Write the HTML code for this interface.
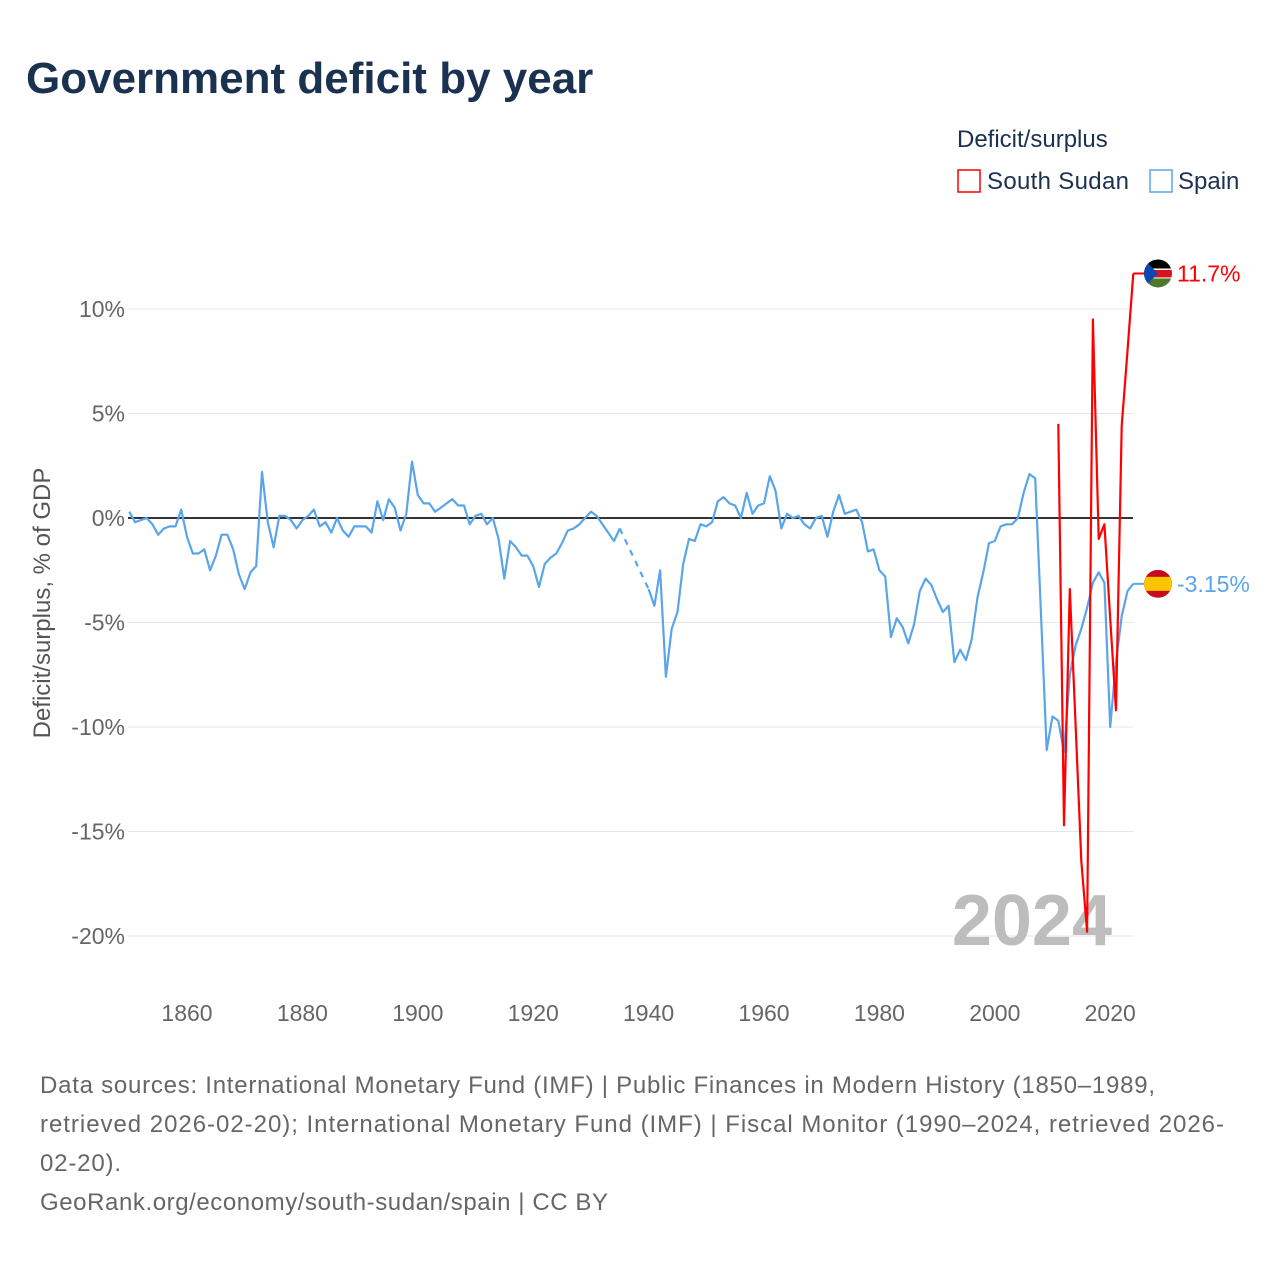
<!DOCTYPE html>
<html><head><meta charset="utf-8"><style>
body{margin:0;background:#fff;font-family:"Liberation Sans",sans-serif;}
#wrap{position:relative;width:1280px;height:1280px;overflow:hidden;}
</style></head><body>
<div id="wrap">
<svg id="chart" width="1280" height="1280">
<text x="26" y="93" font-size="44" font-weight="bold" fill="#1a3150">Government deficit by year</text>
<text x="957" y="147" font-size="24" fill="#1a3150">Deficit/surplus</text>
<g><rect x="958" y="170" width="22" height="22" fill="none" stroke="#f00" stroke-width="1.5"/><text x="987" y="189" font-size="24" fill="#1a3150" textLength="142">South Sudan</text></g>
<g><rect x="1150" y="170" width="22" height="22" fill="none" stroke="#5aa5ea" stroke-width="1.5"/><text x="1178" y="189" font-size="24" fill="#1a3150">Spain</text></g>
<g id="grid"></g><g id="yt"></g><g id="xt"></g>
<text x="1112" y="945" font-size="72" font-weight="bold" fill="#bdbdbd" text-anchor="end">2024</text>
<g id="series"></g>
<text transform="translate(50,603) rotate(-90)" font-size="24" fill="#555" text-anchor="middle">Deficit/surplus, % of GDP</text>
<text x="40" y="1093" font-size="24" fill="#666" textLength="1115">Data sources: International Monetary Fund (IMF) | Public Finances in Modern History (1850–1989,</text>
<text x="40" y="1132" font-size="24" fill="#666" textLength="1184">retrieved 2026-02-20); International Monetary Fund (IMF) | Fiscal Monitor (1990–2024, retrieved 2026-</text>
<text x="40" y="1171" font-size="24" fill="#666" textLength="81">02-20).</text>
<text x="40" y="1210" font-size="24" fill="#666" textLength="568">GeoRank.org/economy/south-sudan/spain | CC BY</text>
</svg></div>
<script>
const yTicks=[10,5,0,-5,-10,-15,-20];
const xTicks=[1860,1880,1900,1920,1940,1960,1980,2000,2020];
const spainStart=1850;
const spainVals=[0.3,-0.2,-0.1,0,-0.3,-0.8,-0.5,-0.4,-0.4,0.4,-0.9,-1.7,-1.7,-1.5,-2.5,-1.8,-0.8,-0.8,-1.5,-2.7,-3.4,-2.6,-2.3,2.2,-0.2,-1.4,0.1,0.1,-0.1,-0.5,-0.1,0.1,0.4,-0.4,-0.2,-0.7,0,-0.6,-0.9,-0.4,-0.4,-0.4,-0.7,0.8,-0.1,0.9,0.5,-0.6,0.2,2.7,1.1,0.7,0.7,0.3,0.5,0.7,0.9,0.6,0.6,-0.3,0.1,0.2,-0.3,0,-1,-2.9,-1.1,-1.4,-1.8,-1.8,-2.3,-3.3,-2.2,-1.9,-1.7,-1.2,-0.6,-0.5,-0.3,0,0.3,0.1,-0.3,-0.7,-1.1,-0.5,null,null,null,null,-3.4,-4.2,-2.5,-7.6,-5.3,-4.5,-2.2,-1,-1.1,-0.3,-0.4,-0.2,0.8,1,0.7,0.6,0,1.2,0.2,0.6,0.7,2,1.3,-0.5,0.2,0,0.1,-0.3,-0.5,0,0.1,-0.9,0.3,1.1,0.2,0.3,0.4,-0.2,-1.6,-1.5,-2.5,-2.8,-5.7,-4.8,-5.2,-6,-5.1,-3.5,-2.9,-3.2,-3.9,-4.5,-4.2,-6.9,-6.3,-6.8,-5.8,-3.8,-2.6,-1.2,-1.1,-0.4,-0.3,-0.3,0,1.2,2.1,1.9,-4.6,-11.1,-9.5,-9.7,-11.2,-7.5,-6.1,-5.3,-4.3,-3.1,-2.6,-3.1,-10,-6.9,-4.7,-3.5,-3.15];
const ssStart=2011;
const ssVals=[4.5,-14.7,-3.4,-9.9,-16.4,-19.8,9.5,-1,-0.3,-4.8,-9.2,4.4,8,11.7];
const X0=129.3,PX=5.77,Y0=518,PY=20.9,L=128,R=1133;
const xs=y=>X0+(y-1850)*PX, ys=v=>Y0-v*PY;
const NS='http://www.w3.org/2000/svg';
function mk(t,a,p){const e=document.createElementNS(NS,t);for(const k in a)e.setAttribute(k,a[k]);p.appendChild(e);return e;}
const g=document.getElementById('grid'),yt=document.getElementById('yt'),xt=document.getElementById('xt'),s=document.getElementById('series');
yTicks.forEach(v=>{
 const l=mk('line',{x1:L,x2:R,y1:ys(v),y2:ys(v),stroke:v===0?'#333':'#e6e6e6','stroke-width':v===0?2:1},g);
 
 
 const t=mk('text',{x:125,y:ys(v)+8,'font-size':23,fill:'#666','text-anchor':'end'},yt);t.textContent=v+'%';
 
 
});
xTicks.forEach(v=>{
 const t=mk('text',{x:xs(v),y:1021,'font-size':23,fill:'#666','text-anchor':'middle'},xt);t.textContent=v;
 
 
});
function draw(start,vals,col,name){
 let prev=null;
 vals.forEach((v,i)=>{
  if(v===null)return;
  const yr=start+i;
  if(prev&&yr-prev.yr>1){const d=mk('line',{x1:xs(prev.yr),y1:ys(prev.v),x2:xs(yr),y2:ys(v),stroke:col,'stroke-width':2.2,'stroke-dasharray':'6,6'},s);
   
   }
  prev={yr,v};
 });
 let pts=[],parts=[];
 vals.forEach((v,i)=>{if(v===null){if(pts.length)parts.push(pts);pts=[];}else pts.push(xs(start+i).toFixed(1)+','+ys(v).toFixed(1));});
 if(pts.length)parts.push(pts);
 parts.forEach(p=>{const e=mk('polyline',{points:p.join(' '),fill:'none',stroke:col,'stroke-width':2.2,'stroke-linejoin':'round'},s);
  
  });
 return prev;
}
const sp=draw(spainStart,spainVals,'#5aa5ea','spain');
const ss=draw(ssStart,ssVals,'#f00','south-sudan');
function endLab(last,col,name,txt,flag){
 const y=ys(last.v);
 const c=mk('line',{x1:xs(last.yr),x2:1148,y1:y,y2:y,stroke:col,'stroke-width':2},s);
 
 
 const fg=mk('g',{},s);
 
 
 const cp=mk('clipPath',{id:'c'+name},fg);mk('circle',{cx:1158,cy:y,r:14},cp);
 const inner=mk('g',{'clip-path':'url(#c'+name+')'},fg);
 if(flag==='es'){mk('rect',{x:1144,y:y-14,width:28,height:28,fill:'#c60b1e'},inner);mk('rect',{x:1144,y:y-7,width:28,height:14,fill:'#ffc400'},inner);}
 else{mk('rect',{x:1144,y:y-14,width:28,height:10,fill:'#000'},inner);mk('rect',{x:1144,y:y-4,width:28,height:8,fill:'#da121a'},inner);mk('rect',{x:1144,y:y-5,width:28,height:1.5,fill:'#fff'},inner);mk('rect',{x:1144,y:y+4,width:28,height:1.5,fill:'#fff'},inner);mk('rect',{x:1144,y:y+5,width:28,height:10,fill:'#4a7a2a'},inner);mk('polygon',{points:(1144)+','+(y-14)+' '+(1158)+','+y+' '+1144+','+(y+14),fill:'#0f47af'},inner);}
 const t=mk('text',{x:1177,y:y+8,'font-size':23,fill:col},s);t.textContent=txt;
 
 
}
endLab(ss,'#f00','south-sudan','11.7%','ss');
endLab(sp,'#5aa5ea','spain','-3.15%','es');
</script>
</body></html>
